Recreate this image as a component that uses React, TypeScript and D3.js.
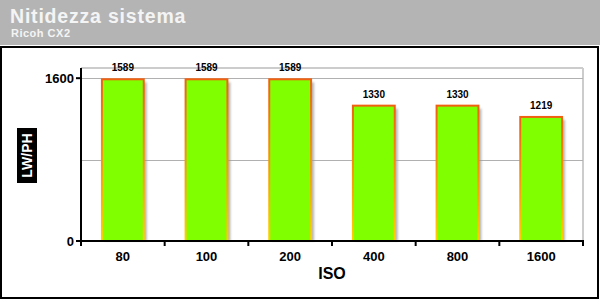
import React from "react";
import * as d3 from "d3";

const categories = ["80", "100", "200", "400", "800", "1600"];
const values = [1589, 1589, 1589, 1330, 1330, 1219];
const yTicks = [0, 1600];
const gridValues = [800, 1600];
const title = "Nitidezza sistema";
const subtitle = "Ricoh CX2";
const xTitle = "ISO";
const yTitle = "LW/PH";

const W = 600;
const H = 300;
const left = 81;
const right = 583;
const top = 68;
const bottom = 241;
const FONT = "Arial, 'Liberation Sans', Helvetica, sans-serif";

export default function App() {
  const x = d3.scaleBand<string>().domain(categories).range([left, right]).paddingInner(0.5).paddingOuter(0.25);
  const y = d3.scaleLinear().domain([0, 1700]).range([bottom, top]);
  const boundaries = d3.range(categories.length + 1).map((i) => left + (i * (right - left)) / categories.length);

  return (
    <div style={{ position: "absolute", left: 0, top: 0 }}>
      <svg width={W} height={H} style={{ display: "block" }}>
        <defs>
          <linearGradient id="strokeGrad" x1="0" y1="0" x2="0" y2="1">
            <stop offset="0%" stopColor="#f06010" />
            <stop offset="100%" stopColor="#ffd000" />
          </linearGradient>
          <filter id="shadow" x="-20%" y="-20%" width="140%" height="140%">
            <feGaussianBlur stdDeviation="1" />
          </filter>
        </defs>
        <rect x={0} y={0} width={W} height={H} fill="#ffffff" />
        <rect x={0} y={0} width={W} height={45} fill="#b4b4b4" />
        <text x={10} y={23} fill="#f4f4f4" fontFamily={FONT} fontWeight="bold" fontSize={19.5} letterSpacing={0.8}>
          {title}
        </text>
        <text x={11} y={37} fill="#f4f4f4" fontFamily={FONT} fontWeight="bold" fontSize={11} letterSpacing={0.5}>
          {subtitle}
        </text>
        <rect x={1} y={47} width={597} height={251} fill="#ffffff" stroke="#000" strokeWidth={2} />

        {/* frame */}
        <line x1={left} x2={right} y1={top} y2={top} stroke="#cccccc" strokeWidth={2} />
        <line x1={right} x2={right} y1={top} y2={bottom} stroke="#cccccc" strokeWidth={2} />
        {gridValues.map((g) => (
          <line key={g} x1={left} x2={right} y1={Math.round(y(g)) + 0.5} y2={Math.round(y(g)) + 0.5} stroke="#b0b0b0" strokeWidth={1} />
        ))}

        {/* bars */}
        {categories.map((c, i) => {
          const bx = x(c)!;
          const bw = x.bandwidth();
          const by = y(values[i]);
          const bh = bottom - by;
          return (
            <g key={c}>
              <rect x={bx + 3} y={by + 3} width={bw} height={bh - 3} fill="#9a9a9a" opacity={0.7} filter="url(#shadow)" />
              <rect x={bx} y={by} width={bw} height={bh} fill="#80ff00" stroke="url(#strokeGrad)" strokeWidth={2} />
              <text x={bx + bw / 2} y={by - 8} textAnchor="middle" fontFamily={FONT} fontWeight="bold" fontSize={10} fill="#000">
                {values[i]}
              </text>
            </g>
          );
        })}

        {/* axes */}
        <line x1={left} x2={left} y1={top} y2={bottom + 1} stroke="#000" strokeWidth={2} />
        <line x1={left - 1} x2={right + 1} y1={bottom} y2={bottom} stroke="#000" strokeWidth={2} />
        {yTicks.map((t) => (
          <g key={t}>
            <line x1={left - 5} x2={left} y1={y(t)} y2={y(t)} stroke="#000" strokeWidth={2} />
            <text x={left - 7} y={y(t) + 5} textAnchor="end" fontFamily={FONT} fontWeight="bold" fontSize={13} fill="#000">
              {t}
            </text>
          </g>
        ))}
        {boundaries.map((b, i) => (
          <line key={i} x1={b} x2={b} y1={bottom} y2={bottom + 5} stroke="#000" strokeWidth={2} />
        ))}
        {categories.map((c) => (
          <text key={c} x={x(c)! + x.bandwidth() / 2} y={261} textAnchor="middle" fontFamily={FONT} fontWeight="bold" fontSize={13} fill="#000">
            {c}
          </text>
        ))}
        <text x={(left + right) / 2} y={279} textAnchor="middle" fontFamily={FONT} fontWeight="bold" fontSize={16} fill="#000">
          {xTitle}
        </text>

        <rect x={17} y={128} width={20} height={55} fill="#000" />
        <text
          transform={`translate(32,155.5) rotate(-90)`}
          textAnchor="middle"
          fontFamily={FONT}
          fontWeight="bold"
          fontSize={14}
          fill="#fff"
        >
          {yTitle}
        </text>
      </svg>
    </div>
  );
}
